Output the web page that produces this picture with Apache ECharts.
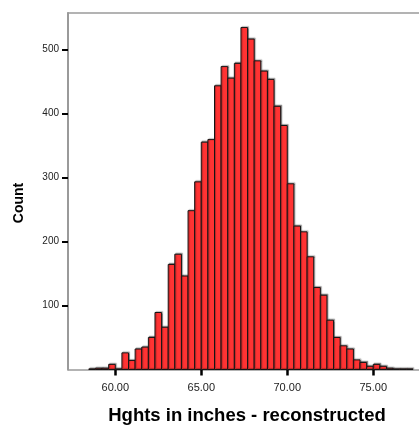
<!DOCTYPE html>
<html>
<head>
<meta charset="utf-8">
<script src="https://cdn.jsdelivr.net/npm/echarts@6/dist/echarts.min.js"></script>
<style>
  html, body { margin: 0; padding: 0; background: #ffffff; }
  #chart { width: 419px; height: 425px; }
</style>
</head>
<body>
<div id="chart"></div>
<script>
// Histogram of reconstructed heights (inches)
const binStart = 60 - 4 * (5 / 13);   // lower edge of the first bin
const binWidth = 5 / 13;              // bin width in inches
const counts = [
  1, 2, 2, 8, 1, 26, 14, 32, 35, 50,
  89, 66, 164, 180, 146, 248, 293, 355, 359, 443,
  473, 455, 478, 534, 516, 482, 466, 453, 411, 381,
  290, 224, 215, 176, 128, 116, 77, 50, 37, 32,
  15, 11, 5, 8, 5, 2, 1, 1, 1
];
const xTicks = [60, 65, 70, 75];
const yTicks = [100, 200, 300, 400, 500];
const xTitle = 'Hghts in inches - reconstructed';
const yTitle = 'Count';

const bins = counts.map((c, i) => [binStart + i * binWidth, binStart + (i + 1) * binWidth, c]);

const FONT = '"Liberation Sans", Arial, sans-serif';
const X_MIN = 57.25, X_MAX = 77.66;
const chart = echarts.init(document.getElementById('chart'), null, { renderer: 'canvas' });

chart.setOption({
  animation: false,
  backgroundColor: '#ffffff',
  grid: { left: 68, top: 13, right: 0, bottom: 55.5, outerBoundsMode: 'none', containLabel: false },
  xAxis: [{
    type: 'value',
    min: X_MIN, max: X_MAX,
    splitLine: { show: false },
    axisLine: { show: true, lineStyle: { color: '#9a9a9a', width: 1.5 } },
    axisTick: { show: true, customValues: xTicks, length: 6, lineStyle: { color: '#000', width: 2.5 } },
    axisLabel: {
      customValues: xTicks, margin: 13,
      formatter: v => v.toFixed(2),
      fontFamily: FONT, fontSize: 11, color: '#222'
    },
    name: xTitle, nameLocation: 'middle', nameGap: 37,
    nameTextStyle: { fontFamily: FONT, fontSize: 18.5, fontWeight: 'bold', color: '#000', padding: [0, 0, 0, 7] }
  }, {
    // top frame line of the plot area
    type: 'value', position: 'top',
    min: X_MIN, max: X_MAX,
    splitLine: { show: false },
    axisLine: { show: true, lineStyle: { color: '#9a9a9a', width: 1.5 } },
    axisTick: { show: false },
    axisLabel: { show: false }
  }],
  yAxis: {
    type: 'value',
    min: 0, max: 556.7,
    splitLine: { show: false },
    axisLine: { show: true, lineStyle: { color: '#9a9a9a', width: 2 } },
    axisTick: { show: true, customValues: yTicks, length: 6, lineStyle: { color: '#000', width: 2 } },
    axisLabel: { customValues: yTicks, margin: 9, fontFamily: FONT, fontSize: 10, color: '#222' }
  },
  graphic: [{
    type: 'text',
    x: 19, y: 203,
    rotation: Math.PI / 2,
    style: {
      text: yTitle, font: 'bold 14px ' + FONT, fill: '#000',
      align: 'center', verticalAlign: 'middle'
    }
  }],
  series: [{
    type: 'custom',
    data: bins,
    encode: { x: [0, 1], y: 2 },
    renderItem: function (params, api) {
      const top = api.coord([api.value(0), api.value(2)]);
      const base = api.coord([api.value(1), 0]);
      return {
        type: 'rect',
        shape: { x: top[0], y: top[1], width: base[0] - top[0], height: base[1] - top[1] },
        style: {
          fill: '#ff3333', stroke: '#151515', lineWidth: 1,
          shadowColor: 'rgba(0,0,0,0.3)', shadowOffsetX: 1, shadowOffsetY: -1, shadowBlur: 1
        }
      };
    }
  }]
});
</script>
</body>
</html>
